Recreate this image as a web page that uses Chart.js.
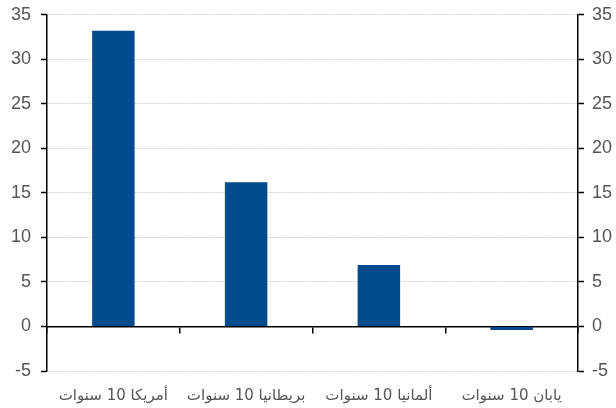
<!DOCTYPE html>
<html>
<head>
<meta charset="utf-8">
<script src="https://cdn.jsdelivr.net/npm/chart.js@4"></script>
<style>
  html, body { margin: 0; padding: 0; background: #fff; overflow: hidden; }
  #wrap { width: 616px; height: 414px; margin-top: -6px; }
</style>
</head>
<body>
<div id="wrap"><canvas id="myChart"></canvas></div>
<script>
const categories = ['أمريكا 10 سنوات', 'بريطانيا 10 سنوات', 'ألمانيا 10 سنوات', 'يابان 10 سنوات'];
const values = [33.2, 16.2, 6.9, -0.4];
const yMin = -5;
const yMax = 35;
const yStep = 5;

const tickFont = { family: 'Liberation Sans, Arial, sans-serif', size: 18 };
const labelFont = { family: 'DejaVu Sans, Liberation Sans, sans-serif', size: 15 };
const tickColor = '#555555';

const ctx = document.getElementById('myChart').getContext('2d');

new Chart(ctx, {
  type: 'bar',
  data: {
    labels: categories,
    datasets: [
      {
        data: values,
        backgroundColor: '#004B8D',
        borderWidth: 0,
        barPercentage: 0.32,
        categoryPercentage: 1.0
      }
    ]
  },
  options: {
    responsive: true,
    maintainAspectRatio: false,
    animation: false,
    layout: { padding: { top: 0, left: 0, right: 0, bottom: 0 } },
    plugins: {
      legend: { display: false },
      tooltip: { enabled: false }
    },
    scales: {
      x: {
        position: 'bottom',
        afterFit: (s) => { s.height = 37; },
        grid: { display: false },
        border: { display: false },
        ticks: { color: tickColor, font: labelFont, padding: 8, maxRotation: 0 }
      },
      x0: {
        type: 'category',
        position: { y: 0 },
        grid: {
          offset: true,
          drawOnChartArea: false,
          drawTicks: true,
          tickLength: 6,
          color: '#000',
          lineWidth: 1.5
        },
        border: { display: true, color: '#000', width: 1.5 },
        ticks: { display: false }
      },
      y: {
        position: 'left',
        min: yMin,
        max: yMax,
        afterFit: (s) => { s.width = 47; },
        ticks: { stepSize: yStep, color: tickColor, font: tickFont, padding: 10 },
        grid: {
          color: '#d6d6d6',
          lineWidth: 1,
          tickColor: '#000',
          tickWidth: 1.5,
          tickLength: 6
        },
        border: { display: true, color: '#000', width: 1.5, dash: [2, 1] }
      },
      y1: {
        position: 'right',
        min: yMin,
        max: yMax,
        afterFit: (s) => { s.width = 38; },
        ticks: { stepSize: yStep, color: tickColor, font: tickFont, padding: 8 },
        grid: {
          drawOnChartArea: false,
          tickColor: '#000',
          tickWidth: 1.5,
          tickLength: 6
        },
        border: { display: true, color: '#000', width: 1.5 }
      }
    }
  }
});
</script>
</body>
</html>
